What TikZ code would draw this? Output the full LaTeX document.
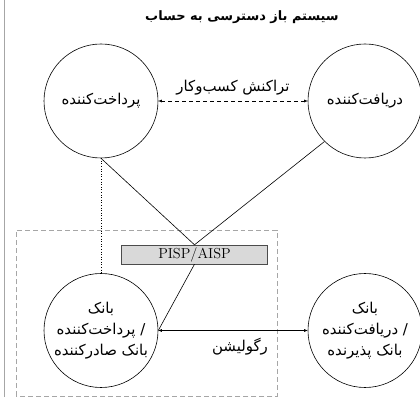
\documentclass[tikz,border=0pt]{standalone}
\usepackage{fontspec}
\usepackage{tikz}
\usetikzlibrary{arrows.meta,positioning}
\newfontfamily\farsi[Script=Arabic]{DejaVu Sans}
\TeXXeTstate=1

\begin{document}
\begin{tikzpicture}[x=0.3528cm, y=0.3528cm,
  every node/.style={font=\farsi\fontsize{15}{21}\selectfont},
  party/.style={draw, circle, minimum size=114bp, inner sep=0pt, line width=0.6pt, align=center},
  twoway/.style={{Latex[length=3.5pt,width=3pt]}-{Latex[length=3.5pt,width=3pt]}}]
  \useasboundingbox (0,0) rectangle (42,39.7);
  % rule on the left edge
  \draw[gray!70, line width=1.4pt] (0.45,0) -- (0.45,39.7);
  \node[font=\farsi\bfseries\fontsize{13}{15}\selectfont] (title) at (24.2,38) {\beginR سیستم باز دسترسی به حساب\endR};
  % customers
  \node[party] (payer) at (10.1,29.6) {\beginR پرداخت^^^^200cکننده\endR};
  \node[party] (payee) at (36.5,29.6) {\beginR دریافت^^^^200cکننده\endR};
  % banks
  \node[party] (bankA) at (10.1,6.65) {\beginR بانک\endR\\ \beginR / پرداخت^^^^200cکننده\endR\\ \beginR بانک صادرکننده\endR};
  \node[party] (bankB) at (36.5,6.65) {\beginR بانک\endR\\ \beginR / دریافت^^^^200cکننده\endR\\ \beginR بانک پذیرنده\endR};
  % open access area
  \draw[gray!70, dash pattern=on 5pt off 3pt, line width=0.8pt] (1.6,0.1) rectangle (27.7,16.7);
  \node[draw=black!70, fill=gray!30, minimum width=146bp, minimum height=19bp, inner sep=0pt,
        font=\rmfamily\fontsize{14.5}{16}\selectfont] (aisp) at (19.45,14.25) {PISP/AISP};
  % links
  \draw[twoway, dash pattern=on 4pt off 3pt, line width=0.6pt] (payer) -- node[above=2pt] (trade) {\beginR تراکنش کسب^^^^200cوکار\endR} (payee);
  \draw[line width=0.6pt] (payer.south) -- (aisp.north);
  \draw[line width=0.6pt] (payee.225) -- (aisp.north);
  \draw[line width=0.6pt] (aisp.south) -- (bankA.east);
  \draw[dotted, line width=0.6pt] (payer.south) -- (bankA.north);
  \draw[twoway, line width=0.6pt] (bankA) -- node[below=4pt, xshift=7bp] (reg) {\beginR رگولیشن\endR} (bankB);
\end{tikzpicture}
\end{document}
